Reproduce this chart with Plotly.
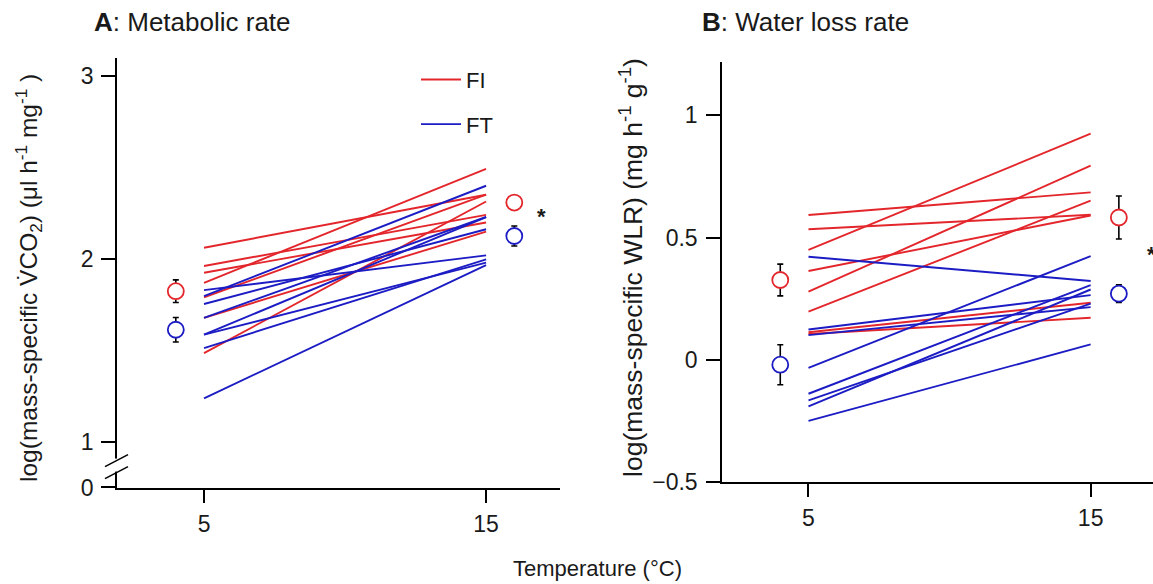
import plotly.graph_objects as go

W, H_REF = 1153, 584
H = 599          # rendered page is captured slightly taller and scaled back to 584

# ---------------- data ----------------
temps = [5, 15]
mean_x = [4, 16]          # x positions of the group means (offset beside 5 and 15 °C)

# Panel A: log mass-specific VCO2, individual reaction norms
fi_5_A = [2.062, 1.962, 1.925, 1.870, 1.790, 1.678, 1.485]
fi_15_A = [2.352, 2.242, 2.200, 2.493, 2.352, 2.150, 2.315]
ft_5_A = [1.830, 1.797, 1.754, 1.678, 1.586, 1.586, 1.513, 1.238]
ft_15_A = [2.020, 2.401, 2.163, 2.230, 2.230, 1.980, 1.998, 1.967]
fi_mean_A = [1.824, 2.309]
fi_se_A = [0.062, 0.025]
ft_mean_A = [1.613, 2.126]
ft_se_A = [0.067, 0.055]

# Panel B: log mass-specific WLR
fi_5_B = [0.592, 0.534, 0.449, 0.363, 0.278, 0.196, 0.112, 0.105]
fi_15_B = [0.685, 0.593, 0.925, 0.590, 0.794, 0.651, 0.233, 0.171]
ft_5_B = [0.421, -0.034, 0.123, 0.100, -0.140, -0.167, -0.192, -0.251]
ft_15_B = [0.322, 0.424, 0.264, 0.215, 0.305, 0.229, 0.287, 0.062]
fi_mean_B = [0.326, 0.582]
fi_se_B = [0.065, 0.088]
ft_mean_B = [-0.021, 0.270]
ft_se_B = [0.082, 0.036]

x_ticks = [5, 15]
x_tick_labels = ["5", "15"]
yA_ticks = [0.75, 1, 2, 3]
yA_tick_labels = ["0", "1", "2", "3"]
yB_ticks = [-0.5, 0, 0.5, 1]
yB_tick_labels = ["\u22120.5", "0", "0.5", "1"]
group_names = ["FI", "FT"]

# ---------------- style ----------------
RED = "#e3262b"
BLUE = "#1c1cc4"
FONT = "Liberation Sans, Arial, sans-serif"
TXT = "#1a1a1a"
LW = 1.9


def px(x):
    return x / W


def py(y):
    return 1 - y / H_REF


fig = go.Figure()


def add_panel(f5, f15, t5, t15, fm, fse, tm, tse, xa, ya, legend):
    for i, (a, b) in enumerate(zip(f5, f15)):
        fig.add_trace(go.Scatter(x=temps, y=[a, b], mode="lines", xaxis=xa, yaxis=ya,
                                 line=dict(color=RED, width=LW),
                                 name=group_names[0], legendgroup="FI",
                                 showlegend=(legend and i == 0)))
    for i, (a, b) in enumerate(zip(t5, t15)):
        fig.add_trace(go.Scatter(x=temps, y=[a, b], mode="lines", xaxis=xa, yaxis=ya,
                                 line=dict(color=BLUE, width=LW),
                                 name=group_names[1], legendgroup="FT",
                                 showlegend=(legend and i == 0)))
    for m, se, c in ((fm, fse, RED), (tm, tse, BLUE)):
        fig.add_trace(go.Scatter(x=mean_x, y=m, mode="markers", xaxis=xa, yaxis=ya,
                                 showlegend=False,
                                 marker=dict(symbol="circle", size=16, color="white",
                                             line=dict(color=c, width=1.8)),
                                 error_y=dict(type="data", array=se, color="black",
                                              thickness=1.6, width=3)))


add_panel(fi_5_A, fi_15_A, ft_5_A, ft_15_A, fi_mean_A, fi_se_A, ft_mean_A, ft_se_A, "x", "y", True)
add_panel(fi_5_B, fi_15_B, ft_5_B, ft_15_B, fi_mean_B, fi_se_B, ft_mean_B, ft_se_B, "x2", "y2", False)

axis_common = dict(showgrid=False, zeroline=False, showline=True, linecolor="black",
                   linewidth=1.5, ticks="outside", ticklen=14, tickwidth=1.5,
                   tickcolor="black", tickfont=dict(family=FONT, size=23, color=TXT))

fig.update_layout(
    width=W, height=H,
    margin=dict(l=0, r=0, t=0, b=0),
    paper_bgcolor="white", plot_bgcolor="white",
    font=dict(family=FONT, color=TXT),
    xaxis=dict(domain=[px(117), px(560)], range=[1.915, 17.62], anchor="y",
               tickvals=x_ticks, ticktext=x_tick_labels, ticklabelstandoff=1, **axis_common),
    yaxis=dict(domain=[py(486), py(58)], range=[0.749, 3.099], anchor="x",
               tickvals=yA_ticks, ticktext=yA_tick_labels, ticklabelstandoff=3, **axis_common),
    xaxis2=dict(domain=[px(722), 1.0], range=[1.935, 17.21], anchor="y2",
                tickvals=x_ticks, ticktext=x_tick_labels, ticklabelstandoff=1, **axis_common),
    yaxis2=dict(domain=[py(480), py(62)], range=[-0.5, 1.218], anchor="x2",
                tickvals=yB_ticks, ticktext=yB_tick_labels, ticklabelstandoff=4, **axis_common),
    showlegend=True,
    legend=dict(x=px(416), y=py(58.5), xanchor="left", yanchor="top",
                bgcolor="rgba(0,0,0,0)", font=dict(family=FONT, size=22, color=TXT),
                tracegroupgap=13, itemwidth=40),
)

annotations = [
    dict(text="<b>A</b>: Metabolic rate", x=px(92), y=py(22), xanchor="left", yanchor="middle", size=26),
    dict(text="<b>B</b>: Water loss rate", x=px(700), y=py(22), xanchor="left", yanchor="middle", size=26),
    dict(text="Temperature (\u00b0C)", x=px(598), y=py(567), xanchor="center", yanchor="middle", size=22),
    dict(text="log(mass-specific V\u0307CO<sub>2</sub>) (\u03bcl h<sup>-1</sup> mg<sup>-1</sup> )",
         x=px(29), y=py(277), xanchor="center", yanchor="middle", textangle=-90, size=24.5),
    dict(text="log(mass-specific WLR) (mg h<sup>-1</sup> g<sup>-1</sup>)",
         x=px(631), y=py(267), xanchor="center", yanchor="middle", textangle=-90, size=26.5),
    dict(text="<b>*</b>", x=px(541), y=py(216), xanchor="center", yanchor="middle", size=22),
    dict(text="<b>*</b>", x=px(1151), y=py(254), xanchor="center", yanchor="middle", size=22),
]
for a in annotations:
    s = a.pop("size")
    a.update(xref="paper", yref="paper", showarrow=False,
             font=dict(family=FONT, size=s, color=TXT))
fig.update_layout(annotations=annotations)

# axis break marks on panel A's y axis
shapes = [
    dict(type="rect", x0=px(110), x1=px(124), y0=py(470), y1=py(457),
         fillcolor="white", line=dict(width=0)),
    dict(type="line", x0=px(105), y0=py(465), x1=px(128), y1=py(453)),
    dict(type="line", x0=px(105), y0=py(477), x1=px(128), y1=py(465)),
]
for s in shapes:
    s.update(xref="paper", yref="paper", layer="above")
    if s["type"] == "line":
        s["line"] = dict(color="black", width=1.5)
fig.update_layout(shapes=shapes)

fig.write_html("out.html", config={"displayModeBar": False},
               post_script="document.body.style.margin='0px';")
